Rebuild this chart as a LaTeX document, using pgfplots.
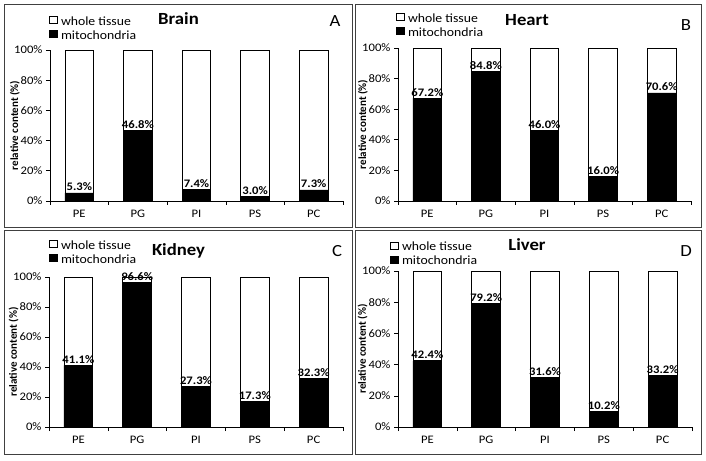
\documentclass[border=0pt]{standalone}
\usepackage{pgfplots}
\pgfplotsset{compat=1.18}
\usepackage{fontspec}
\setmainfont{Carlito}[FakeStretch=1.1]
\newfontfamily\ylfont{Carlito}

\pgfplotsset{
 panel/.style={
  scale only axis, anchor=south west,
  xmin=-0.5, xmax=4.5, ymin=0, ymax=100,
  axis x line=bottom, axis y line=left,
  axis line style={-, line width=0.6pt},
  tick align=outside, major tick length=4pt,
  tick style={black, line width=0.6pt},
  xtick={-0.5,0.5,1.5,2.5,3.5,4.5},
  x tick label as interval,
  xticklabels={PE,PG,PI,PS,PC},
  ytick={0,20,40,60,80,100},
  yticklabels={0\%,20\%,40\%,60\%,80\%,100\%},
  tick label style={font=\fontsize{11.5}{13}\selectfont},
  xticklabel style={yshift=-2pt},
  ylabel={relative content (\%)},
  every axis y label/.style={at={(axis description cs:-0.12,0.5)}, rotate=90, anchor=center, font=\ylfont\bfseries\fontsize{11}{12}\selectfont},
  ybar, bar width=0.49, bar shift=0pt,
  clip=false,
  legend style={draw=none, fill=none, inner sep=0pt, row sep=0pt, font=\fontsize{12.5}{14}\selectfont, nodes={inner sep=1pt, text height=9pt, text depth=3pt, anchor=west}},
  legend cell align=left,
  legend image code/.code={\draw[#1] (0pt,-1.5pt) rectangle (8pt,5.5pt); \path (10pt,0pt);},
 },
 tissue/.style={fill=white, draw=black, line width=0.8pt},
 mito/.style={fill=black, draw=black, line width=0.8pt, point meta=y,
   nodes near coords={\pgfmathprintnumber[fixed,fixed zerofill,precision=1,assume math mode=true]{\pgfplotspointmeta}\%},
   every node near coord/.append style={font=\bfseries\fontsize{11.5}{13}\selectfont, inner sep=1pt, anchor=south, yshift=0.5pt, black}},
}

\begin{document}
\begin{tikzpicture}[x=1pt,y=1pt]
\path[use as bounding box] (0,0) rectangle (706,460);
\draw[line width=0.8pt, black!75] (4,233) rectangle (352,456);
\draw[line width=0.8pt, black!75] (355,233) rectangle (701,456);
\draw[line width=0.8pt, black!75] (4,6) rectangle (352,230);
\draw[line width=0.8pt, black!75] (355,6) rectangle (701,230);

% A Brain
\begin{axis}[panel, at={(50pt,259pt)}, width=293pt, height=151pt,
  legend style={at={(0,1)}, anchor=north west, xshift=-1pt, yshift=35pt}]
\addplot[tissue] coordinates {(0,100) (1,100) (2,100) (3,100) (4,100)};
\addlegendentry{whole tissue}
\addplot[mito] coordinates {(0,5.3) (1,46.8) (2,7.4) (3,3.0) (4,7.3)};
\addlegendentry{mitochondria}
\end{axis}

% B Heart
\begin{axis}[panel, at={(398pt,259pt)}, width=293pt, height=153pt,
  legend style={at={(0,1)}, anchor=north west, xshift=-2pt, yshift=36pt}]
\addplot[tissue] coordinates {(0,100) (1,100) (2,100) (3,100) (4,100)};
\addlegendentry{whole tissue}
\addplot[mito] coordinates {(0,67.2) (1,84.8) (2,46.0) (3,16.0) (4,70.6)};
\addlegendentry{mitochondria}
\end{axis}

% C Kidney
\begin{axis}[panel, at={(49pt,33pt)}, width=294pt, height=150pt,
  legend style={at={(0,1)}, anchor=north west, xshift=0pt, yshift=38pt}]
\addplot[tissue] coordinates {(0,100) (1,100) (2,100) (3,100) (4,100)};
\addlegendentry{whole tissue}
\addplot[mito] coordinates {(0,41.1) (1,96.6) (2,27.3) (3,17.3) (4,32.3)};
\addlegendentry{mitochondria}
\end{axis}

% D Liver
\begin{axis}[panel, at={(398pt,33pt)}, width=294pt, height=156pt,
  legend style={at={(0,1)}, anchor=north west, xshift=-8pt, yshift=30.7pt}]
\addplot[tissue] coordinates {(0,100) (1,100) (2,100) (3,100) (4,100)};
\addlegendentry{whole tissue}
\addplot[mito] coordinates {(0,42.4) (1,79.2) (2,31.6) (3,10.2) (4,33.2)};
\addlegendentry{mitochondria}
\end{axis}

\begin{scope}[every node/.style={anchor=base, inner sep=0pt}]
\node[font=\bfseries\fontsize{17}{20}\selectfont] at (178.5,435) {Brain};
\node[font=\bfseries\fontsize{17}{20}\selectfont] at (527,434) {Heart};
\node[font=\bfseries\fontsize{17}{20}\selectfont] at (178.5,204) {Kidney};
\node[font=\bfseries\fontsize{17}{20}\selectfont] at (527,209) {Liver};
\node[font=\fontsize{17}{20}\selectfont] at (335,433) {A};
\node[font=\fontsize{17}{20}\selectfont] at (686,429) {B};
\node[font=\fontsize{17}{20}\selectfont] at (337,203) {C};
\node[font=\fontsize{17}{20}\selectfont] at (686,203) {D};
\end{scope}
\end{tikzpicture}
\end{document}
